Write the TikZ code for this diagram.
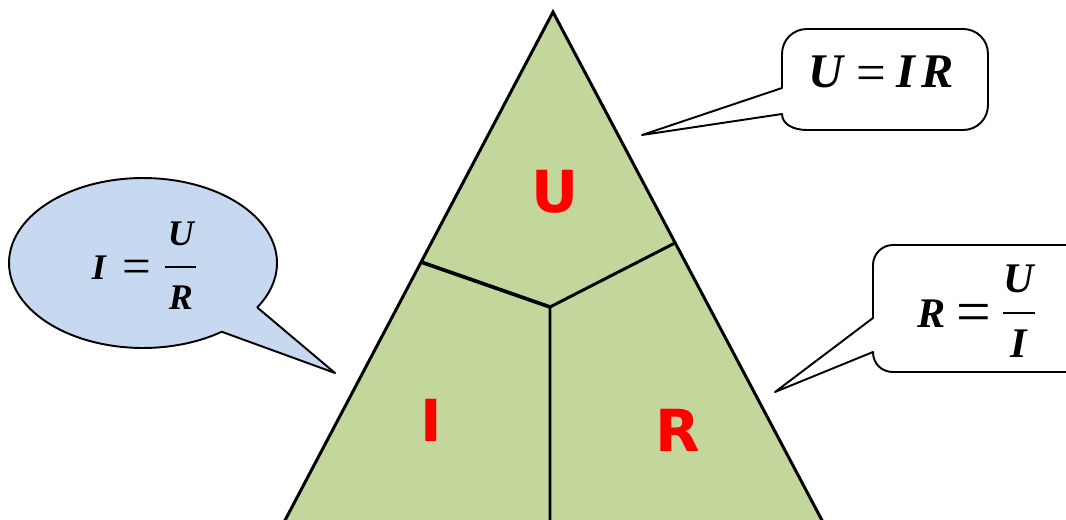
\documentclass[tikz,border=0pt]{standalone}
\usepackage{fontspec}
\usetikzlibrary{calc}
\setmainfont{Liberation Serif}
\newfontfamily\capsfont{DejaVu Sans}
\definecolor{trigreen}{HTML}{C3D69B}
\definecolor{bubbleblue}{HTML}{C6D9F1}
\begin{document}
\begin{tikzpicture}[x=0.02cm,y=-0.02cm,
  triedge/.style={line width=1.7pt, line join=miter},
  bubble/.style={draw=black, line width=1.1pt, line join=round},
  redletter/.style={text=red, font=\capsfont\bfseries\fontsize{33}{36}\selectfont, inner sep=0pt},
  eqbig/.style={font=\bfseries\itshape\fontsize{27.5}{30}\selectfont, inner sep=0pt},
  eqmid/.style={font=\bfseries\itshape\fontsize{24}{26}\selectfont, inner sep=0pt},
  eqsmall/.style={font=\bfseries\itshape\fontsize{20.5}{22}\selectfont, inner sep=0pt},
  eqsign/.style={font=\fontsize{#1}{#1}\selectfont, inner sep=0pt},
  fracbar/.style={line width=1.6pt}
]
\clip (0,0) rectangle (1066,520);
% triangle
\coordinate (apex) at (553,12);
\coordinate (bl) at (282,526);
\coordinate (br) at (825,526);
\coordinate (pl) at (421,262);
\coordinate (pr) at (675,243);
\coordinate (mid) at (550,307);
\coordinate (bm) at (550,526);
\fill[trigreen] (apex) -- (bl) -- (br) -- cycle;
\draw[triedge] (bl) -- (apex) -- (br);
\draw[triedge, line width=2.1pt] (pl) -- (mid);
\draw[triedge] (pr) -- (mid) -- (bm);
\node[redletter] (lU) at (555,192) {U};
\node[redletter] (lI) at (431,420) {I};
\node[redletter] (lR) at (678,430) {R};
% top callout (corner radius 25)
\coordinate (t1) at (642,135);
\draw[bubble, fill=white] (782,88) -- (782,54) .. controls (782,40) and (793,29) .. (807,29) -- (963,29)
  .. controls (977,29) and (988,40) .. (988,54) -- (988,105) .. controls (988,119) and (977,130) .. (963,130)
  -- (807,130) .. controls (793,130) and (782,124) .. (782,114) -- (t1) -- cycle;
\node[eqbig] (tU) at (826,72) {U};
\node[eqsign=30] (tEq) at (871,78) {=};
\node[eqbig] (tI) at (906,72) {I};
\node[eqbig] (tR) at (938,72) {R};
% right callout (corner radius 20)
\coordinate (t2) at (775,392);
\draw[bubble, fill=white] (873,318) -- (873,265) .. controls (873,254) and (882,245) .. (893,245) -- (1090,245)
  -- (1090,372) -- (893,372) .. controls (882,372) and (873,364) .. (873,352) -- (t2) -- cycle;
\node[eqmid] (rR) at (932,314) {R};
\node[eqsign=35] (rEq) at (974,318) {=};
\node[eqmid] (rU) at (1019,279) {U};
\node[eqmid] (rI) at (1019,344) {I};
\coordinate (rb1) at (1003,313);
\coordinate (rb2) at (1035,313);
\draw[fracbar] (rb1) -- (rb2);
% left callout (ellipse)
\coordinate (ec) at (143,263);
\coordinate (t3) at (335,373);
\draw[bubble, fill=bubbleblue] ($(ec)+(31.5:134 and 85)$) -- (t3) -- ($(ec)+(54:134 and 85)$)
  -- plot[domain=54:391.5, samples=120] ({143+134*cos(\x)},{263+85*sin(\x)}) -- cycle;
\node[eqsmall] (eI) at (99,268) {I};
\node[eqsign=29] (eEq) at (137,272) {=};
\node[eqsmall] (eU) at (181,234) {U};
\node[eqsmall] (eR) at (181,298) {R};
\coordinate (eb1) at (165,267);
\coordinate (eb2) at (196,267);
\draw[fracbar, line width=1.4pt] (eb1) -- (eb2);
\end{tikzpicture}
\end{document}
